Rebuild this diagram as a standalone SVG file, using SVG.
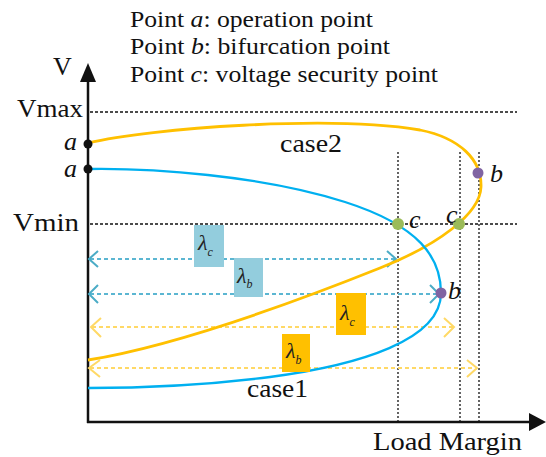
<svg xmlns="http://www.w3.org/2000/svg" width="546" height="457" viewBox="0 0 546 457">
<defs>
<style>
text{font-family:'Liberation Serif','DejaVu Serif',serif;fill:#111;}
.lg{font-size:24px;}
.ax{font-size:26px;}
.it{font-style:italic;}
.lam{font-style:italic;font-size:22px;fill:#222;}
.sub{font-size:12px;}
.dot{stroke:#111;stroke-width:1.3;stroke-dasharray:2 2;fill:none;}
.hdot{stroke:#111;stroke-width:1.6;stroke-dasharray:3 2;fill:none;}
.bd{stroke:#5BB6D2;stroke-width:2;stroke-dasharray:4 3;fill:none;}
.od{stroke:#FFD966;stroke-width:2;stroke-dasharray:4 3;fill:none;}
.bch{stroke:#4BACC6;stroke-width:2;fill:none;}
.och{stroke:#FFD966;stroke-width:2;fill:none;}
</style>
</defs>
<rect width="546" height="457" fill="#fff"/>
<g id="legend">
<text class="lg" x="130" y="27" textLength="243" lengthAdjust="spacingAndGlyphs">Point <tspan class="it">a</tspan>: operation point</text>
<text class="lg" x="130" y="54" textLength="260" lengthAdjust="spacingAndGlyphs">Point <tspan class="it">b</tspan>: bifurcation point</text>
<text class="lg" x="130" y="82" textLength="308" lengthAdjust="spacingAndGlyphs">Point <tspan class="it">c</tspan>: voltage security point</text>
</g>
<g id="guides">
<line class="hdot" x1="90" y1="112" x2="517" y2="112"/>
<line class="hdot" x1="90" y1="224" x2="517" y2="224"/>
<line class="dot" x1="398" y1="152" x2="398" y2="421"/>
<line class="dot" x1="460" y1="152" x2="460" y2="421"/>
<line class="dot" x1="479" y1="152" x2="479" y2="421"/>
</g>
<g id="axes">
<line x1="88" y1="423" x2="88" y2="80" stroke="#111" stroke-width="2.5"/>
<polygon points="88,63 80,82 96,82" fill="#111"/>
<line x1="87" y1="422" x2="531" y2="422" stroke="#111" stroke-width="2.5"/>
<polygon points="546,422 529,413 529,431" fill="#111"/>
<text class="ax" x="53" y="75">V</text>
<text class="ax" x="17" y="117" textLength="66" lengthAdjust="spacingAndGlyphs">Vmax</text>
<text class="ax" x="13" y="231" textLength="66" lengthAdjust="spacingAndGlyphs">Vmin</text>
<text class="ax it" x="64" y="150">a</text>
<text class="ax it" x="64" y="177">a</text>
<text class="ax" x="373" y="450" textLength="149" lengthAdjust="spacingAndGlyphs">Load Margin</text>
</g>
<g id="connectors">
<line class="bd" x1="90" y1="259" x2="396" y2="259"/>
<polyline class="bch" points="98,251 89,259 98,267"/>
<polyline class="bch" points="387,251 396,259 387,267"/>
<line class="bd" x1="90" y1="294" x2="438" y2="294"/>
<polyline class="bch" points="98,285 89,294 98,303"/>
<polyline class="bch" points="430,285 439,294 430,303"/>
<line class="od" x1="92" y1="327" x2="453" y2="327"/>
<polyline class="och" points="101,318 91,327 101,337"/>
<polyline class="och" points="444,318 454,327 444,337"/>
<line class="od" x1="90" y1="368" x2="475" y2="368"/>
<polyline class="och" points="100,360 89,368 100,377"/>
<polyline class="och" points="467,360 477,368 467,377"/>
</g>
<g id="case2">
<path d="M88,143 C150,128 330,115 420,130 C460,138 482,160 481,187 C480,214 438,245 380,268 C300,300 180,345 88,360" fill="none" stroke="#FFC000" stroke-width="2.8"/>
<text class="ax" x="280" y="152" textLength="62" lengthAdjust="spacingAndGlyphs">case2</text>
</g>
<g id="case1">
<path d="M88,169 C150,168 260,175 345,202 C420,226 441,258 441,293 C441,340 360,365 270,377 C200,386 130,388 88,388" fill="none" stroke="#00B0F0" stroke-width="2.3"/>
<text class="ax" x="247" y="397" textLength="61" lengthAdjust="spacingAndGlyphs">case1</text>
</g>
<g id="labels">
<rect x="194" y="225" width="30" height="42" fill="#93CDDD"/>
<text class="lam" x="198" y="250">λ<tspan class="sub" dy="6">c</tspan></text>
<rect x="234" y="258" width="29" height="39" fill="#93CDDD"/>
<text class="lam" x="237" y="283">λ<tspan class="sub" dy="5">b</tspan></text>
<rect x="336" y="293" width="30" height="42" fill="#FFC000"/>
<text class="lam" x="340" y="320">λ<tspan class="sub" dy="6">c</tspan></text>
<rect x="282" y="334" width="28" height="38" fill="#FFC000"/>
<text class="lam" x="286" y="358">λ<tspan class="sub" dy="6">b</tspan></text>
</g>
<g id="points">
<circle cx="88" cy="144" r="4.5" fill="#111"/>
<circle cx="88" cy="169" r="4.5" fill="#111"/>
<circle cx="398" cy="224" r="6" fill="#9BBB59"/>
<circle cx="459" cy="224" r="6" fill="#9BBB59"/>
<circle cx="478" cy="173" r="5.5" fill="#8064A2"/>
<circle cx="441" cy="293" r="5.5" fill="#8064A2"/>
<text class="ax it" x="409" y="228">c</text>
<text class="ax it" x="446" y="223">c</text>
<text class="ax it" x="490" y="182">b</text>
<text class="ax it" x="448" y="299">b</text>
</g>
</svg>
